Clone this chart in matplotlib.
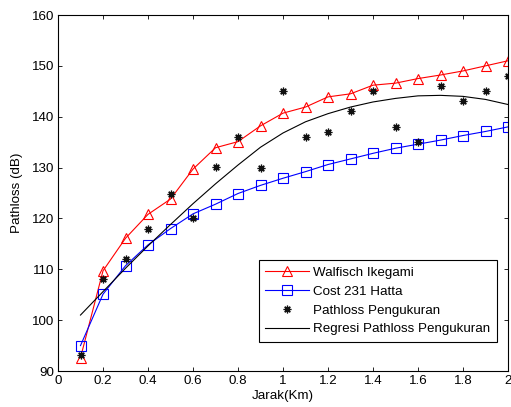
import matplotlib
matplotlib.use("Agg")
import matplotlib.pyplot as plt

plt.rcParams['font.family'] = ['Liberation Sans', 'DejaVu Sans']

jarak = [0.1, 0.2, 0.3, 0.4, 0.5, 0.6, 0.7, 0.8, 0.9, 1.0,
         1.1, 1.2, 1.3, 1.4, 1.5, 1.6, 1.7, 1.8, 1.9, 2.0]
walfisch = [92.6, 109.7, 116.1, 120.8, 123.8, 129.7, 133.9, 135.1, 138.2, 140.7,
            141.9, 143.9, 144.5, 146.2, 146.6, 147.5, 148.2, 149.0, 150.0, 151.0]
cost231 = [95.0, 105.1, 110.7, 114.8, 118.0, 120.9, 122.8, 124.9, 126.5, 127.9,
           129.2, 130.6, 131.7, 132.8, 133.8, 134.6, 135.4, 136.3, 137.1, 138.0]
pengukuran = [93.1, 108.0, 112.1, 118.0, 124.9, 120.0, 130.1, 136.1, 130.0, 145.0,
              136.1, 137.0, 141.1, 145.1, 138.0, 135.1, 146.0, 143.1, 145.1, 148.1]
regresi = [101.0, 105.6, 110.2, 114.6, 118.8, 122.9, 126.8, 130.5, 134.0, 136.8,
           139.0, 140.6, 141.9, 142.9, 143.6, 144.1, 144.2, 144.0, 143.4, 142.4]

xticks = [0, 0.2, 0.4, 0.6, 0.8, 1, 1.2, 1.4, 1.6, 1.8, 2]
xticklabels = ['0', '0.2', '0.4', '0.6', '0.8', '1', '1.2', '1.4', '1.6', '1.8', '2']
yticks = [90, 100, 110, 120, 130, 140, 150, 160]

FS = 9.6

fig = plt.figure(figsize=(5.11, 4.07), dpi=100)
ax = fig.add_axes([58/511, 36/407, 450/511, 356/407])

ax.plot(jarak, walfisch, color='#ff0000', lw=0.8, marker='^', ms=7,
        mfc='none', mec='#ff0000', mew=0.8, label='Walfisch Ikegami')
ax.plot(jarak, cost231, color='#0000ff', lw=0.8, marker='s', ms=6.5,
        mfc='none', mec='#0000ff', mew=0.8, label='Cost 231 Hatta')
ax.plot(jarak, pengukuran, ls='none', marker=(8, 2, 0), ms=5.5, color='#111111',
        mew=0.9, label='Pathloss Pengukuran')
ax.plot(jarak, regresi, color='black', lw=0.8, label='Regresi Pathloss Pengukuran')

ax.set_xlim(0, 2)
ax.set_ylim(90, 160)
ax.set_xticks(xticks)
ax.set_xticklabels(xticklabels)
ax.set_yticks(yticks)
ax.tick_params(direction='in', top=True, right=True, labelsize=FS, length=3, width=0.6, pad=3)
for s in ax.spines.values():
    s.set_linewidth(0.8)

ax.set_xlabel('Jarak(Km)', fontsize=FS, labelpad=2)
ax.set_ylabel('Pathloss (dB)', fontsize=FS, labelpad=6)

leg = ax.legend(loc='lower right', bbox_to_anchor=(0.9756, 0.0815), fontsize=FS,
                fancybox=False, framealpha=1, edgecolor='black', borderpad=0.5,
                handlelength=3.3, handletextpad=0.3, labelspacing=0.48, borderaxespad=0)
leg.get_frame().set_linewidth(0.8)

fig.savefig('out.png', dpi=100)
